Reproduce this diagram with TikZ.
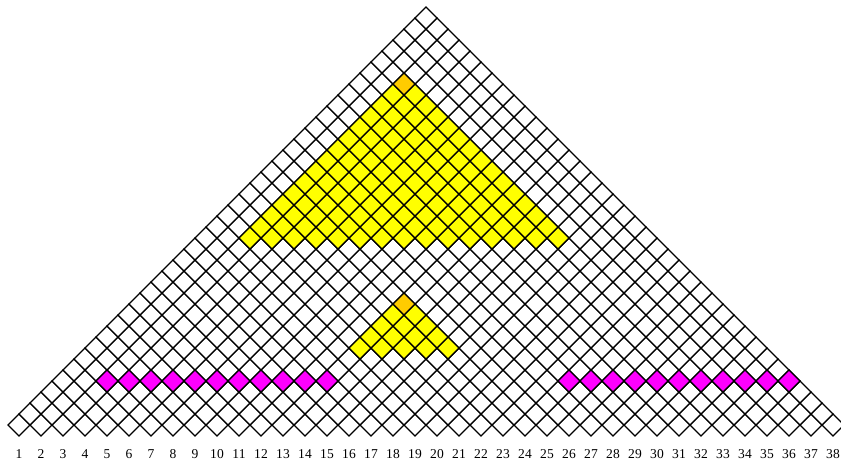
\documentclass[tikz,border=0pt]{standalone}
\usepackage{fontspec}
\setmainfont{Liberation Serif}
\definecolor{peakc}{RGB}{255,204,0}
\definecolor{yellc}{RGB}{255,255,0}
\definecolor{magcol}{RGB}{255,0,255}
\newcommand{\diam}[3]{\draw[#3] (#1-0.5,#2) -- (#1,#2+0.5) -- (#1+0.5,#2) -- (#1,#2-0.5) -- cycle;}
\begin{document}
\begin{tikzpicture}[x=0.6cm,y=0.6cm]
	\tikzset{cell/.style={draw=black,line width=0.85pt,line join=miter,fill=white}}
	\tikzset{yell/.style={cell,fill=yellc},peak/.style={cell,fill=peakc},magc/.style={cell,fill=magcol}}
	\useasboundingbox (0.136,-1.591) rectangle (38.364,19.318);

	% whole triangle
	\foreach \k in {0,...,37} {
		\pgfmathtruncatemacro{\m}{38-\k}
		\foreach \i in {1,...,\m} {
			\pgfmathsetmacro{\cx}{\i+\k/2}
			\pgfmathsetmacro{\cy}{\k/2}
			\diam{\cx}{\cy}{cell}
		}
	}

	% big yellow block
	\foreach \k in {17,...,30} {
		\pgfmathtruncatemacro{\w}{31-\k}
		\foreach \j in {0,...,\w} {
			\pgfmathsetmacro{\cx}{11.5+(\k-17)/2+\j}
			\pgfmathsetmacro{\cy}{\k/2}
			\diam{\cx}{\cy}{yell}
		}
	}
	\diam{18.5}{15.5}{peak}

	% small yellow block
	\foreach \k in {7,...,10} {
		\pgfmathtruncatemacro{\w}{11-\k}
		\foreach \j in {0,...,\w} {
			\pgfmathsetmacro{\cx}{16.5+(\k-7)/2+\j}
			\pgfmathsetmacro{\cy}{\k/2}
			\diam{\cx}{\cy}{yell}
		}
	}
	\diam{18.5}{5.5}{peak}

	% magenta row
	\foreach \i in {5,...,15,26,27,...,36} {
		\diam{\i}{2}{magc}
	}

	% labels
	\foreach \i in {1,...,38} {
		\node[inner sep=0pt,font=\fontsize{10.5}{12}\selectfont] (lab\i) at (\i,-1.33) {\i};
	}
\end{tikzpicture}
\end{document}
